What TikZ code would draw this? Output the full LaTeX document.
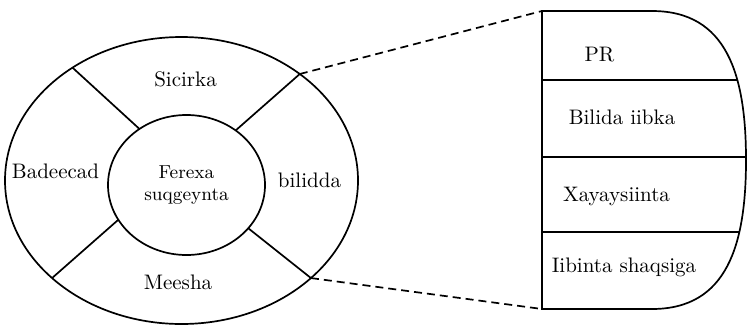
\documentclass[tikz,border=0pt]{standalone}
\usetikzlibrary{shapes.geometric}

\begin{document}
\begin{tikzpicture}[x=0.5pt, y=-0.5pt, line width=0.85pt,
    ring/.style={draw, ellipse, inner sep=0pt, outer sep=0pt},
    zoomline/.style={dash pattern=on 4pt off 2.5pt},
    word/.style={anchor=base, inner sep=0pt, font=\fontsize{10.5}{12}\selectfont}]
        \useasboundingbox (0, 0) rectangle (748, 327);
        \node[ring, minimum width=176.5pt, minimum height=143.5pt] (outer) at (181.5, 180.5) {};
        \node[ring, minimum width=78.5pt, minimum height=70pt, align=center,
          font=\fontsize{9.4}{11}\selectfont] (inner) at (186.5, 185) {Ferexa\\suqgeynta};
        \foreach \a/\b in {130.6/134.2, 48.5/42.7, 207.8/217.7, 325.7/323.7}
        \draw (inner.\a) -- (outer.\b);
        \node[word] (sicirka) at (185.5, 86.7) {Sicirka};
        \node[word] (badeecad) at (55.5, 178.3) {Badeecad};
        \node[word] (bilidda) at (309.5, 187.5) {bilidda};
        \node[word] (meesha) at (178, 289.3) {Meesha};
        \coordinate (tl) at (542, 11);
        \coordinate (bl) at (542, 309);
        \begin{scope}
          \clip (bl) -- (tl) -- (652, 11) .. controls (727, 11) and (746, 75) .. (746, 160)
            .. controls (746, 245) and (727, 309) .. (652, 309) -- cycle;
          \foreach \y in {80, 157, 232}
          \draw (542, \y) -- +(220, 0);
        \end{scope}
        \draw (bl) -- (tl) -- (652, 11) .. controls (727, 11) and (746, 75) .. (746, 160)
          .. controls (746, 245) and (727, 309) .. (652, 309) -- cycle;
        \draw[zoomline] (outer.42.7) -- (tl);
        \draw[zoomline] (outer.323.7) -- (bl);
        \node[word] (pr) at (599.5, 61) {PR};
        \node[word] (bilida) at (622, 124) {Bilida iibka};
        \node[word] (xayaysiinta) at (616.5, 201) {Xayaysiinta};
        \node[word] (iibinta) at (624, 272) {Iibinta shaqsiga};
      \end{tikzpicture}
\end{document}
